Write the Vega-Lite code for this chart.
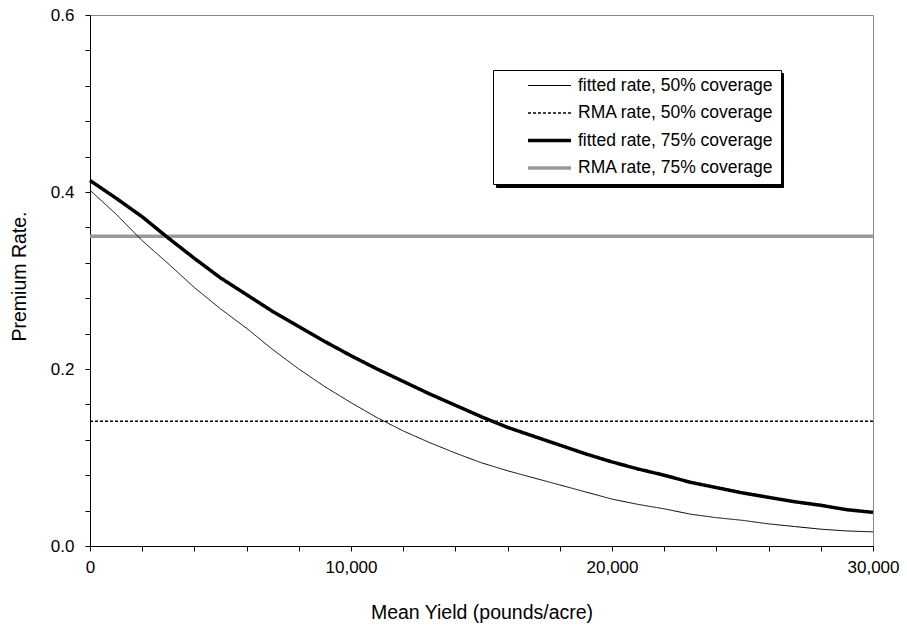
{
  "$schema": "https://vega.github.io/schema/vega-lite/v6.json",
  "width": 783,
  "height": 531,
  "autosize": {"type": "none"},
  "padding": {"left": 90, "top": 15, "right": 34, "bottom": 85},
  "background": "white",
  "data": {
    "values": [
      {"series": "RMA rate, 75% coverage", "yield": 0, "rate": 0.35},
      {"series": "RMA rate, 75% coverage", "yield": 30000, "rate": 0.35},
      {"series": "RMA rate, 50% coverage", "yield": 0, "rate": 0.141},
      {"series": "RMA rate, 50% coverage", "yield": 30000, "rate": 0.141},
      {"series": "fitted rate, 50% coverage", "yield": 0, "rate": 0.402},
      {"series": "fitted rate, 50% coverage", "yield": 1000, "rate": 0.375},
      {"series": "fitted rate, 50% coverage", "yield": 2000, "rate": 0.345},
      {"series": "fitted rate, 50% coverage", "yield": 3000, "rate": 0.319},
      {"series": "fitted rate, 50% coverage", "yield": 4000, "rate": 0.292},
      {"series": "fitted rate, 50% coverage", "yield": 5000, "rate": 0.268},
      {"series": "fitted rate, 50% coverage", "yield": 6000, "rate": 0.246},
      {"series": "fitted rate, 50% coverage", "yield": 7000, "rate": 0.222},
      {"series": "fitted rate, 50% coverage", "yield": 8000, "rate": 0.2},
      {"series": "fitted rate, 50% coverage", "yield": 9000, "rate": 0.18},
      {"series": "fitted rate, 50% coverage", "yield": 10000, "rate": 0.162},
      {"series": "fitted rate, 50% coverage", "yield": 11000, "rate": 0.145},
      {"series": "fitted rate, 50% coverage", "yield": 12000, "rate": 0.13},
      {"series": "fitted rate, 50% coverage", "yield": 13000, "rate": 0.117},
      {"series": "fitted rate, 50% coverage", "yield": 14000, "rate": 0.105},
      {"series": "fitted rate, 50% coverage", "yield": 15000, "rate": 0.094},
      {"series": "fitted rate, 50% coverage", "yield": 16000, "rate": 0.085},
      {"series": "fitted rate, 50% coverage", "yield": 17000, "rate": 0.077},
      {"series": "fitted rate, 50% coverage", "yield": 18000, "rate": 0.069},
      {"series": "fitted rate, 50% coverage", "yield": 19000, "rate": 0.061},
      {"series": "fitted rate, 50% coverage", "yield": 20000, "rate": 0.053},
      {"series": "fitted rate, 50% coverage", "yield": 21000, "rate": 0.047},
      {"series": "fitted rate, 50% coverage", "yield": 22000, "rate": 0.042},
      {"series": "fitted rate, 50% coverage", "yield": 23000, "rate": 0.036},
      {"series": "fitted rate, 50% coverage", "yield": 24000, "rate": 0.032},
      {"series": "fitted rate, 50% coverage", "yield": 25000, "rate": 0.029},
      {"series": "fitted rate, 50% coverage", "yield": 26000, "rate": 0.025},
      {"series": "fitted rate, 50% coverage", "yield": 27000, "rate": 0.022},
      {"series": "fitted rate, 50% coverage", "yield": 28000, "rate": 0.019},
      {"series": "fitted rate, 50% coverage", "yield": 29000, "rate": 0.017},
      {"series": "fitted rate, 50% coverage", "yield": 30000, "rate": 0.016},
      {"series": "fitted rate, 75% coverage", "yield": 0, "rate": 0.413},
      {"series": "fitted rate, 75% coverage", "yield": 1000, "rate": 0.393},
      {"series": "fitted rate, 75% coverage", "yield": 2000, "rate": 0.372},
      {"series": "fitted rate, 75% coverage", "yield": 3000, "rate": 0.348},
      {"series": "fitted rate, 75% coverage", "yield": 4000, "rate": 0.325},
      {"series": "fitted rate, 75% coverage", "yield": 5000, "rate": 0.303},
      {"series": "fitted rate, 75% coverage", "yield": 6000, "rate": 0.284},
      {"series": "fitted rate, 75% coverage", "yield": 7000, "rate": 0.265},
      {"series": "fitted rate, 75% coverage", "yield": 8000, "rate": 0.248},
      {"series": "fitted rate, 75% coverage", "yield": 9000, "rate": 0.231},
      {"series": "fitted rate, 75% coverage", "yield": 10000, "rate": 0.215},
      {"series": "fitted rate, 75% coverage", "yield": 11000, "rate": 0.2},
      {"series": "fitted rate, 75% coverage", "yield": 12000, "rate": 0.186},
      {"series": "fitted rate, 75% coverage", "yield": 13000, "rate": 0.172},
      {"series": "fitted rate, 75% coverage", "yield": 14000, "rate": 0.159},
      {"series": "fitted rate, 75% coverage", "yield": 15000, "rate": 0.146},
      {"series": "fitted rate, 75% coverage", "yield": 16000, "rate": 0.134},
      {"series": "fitted rate, 75% coverage", "yield": 17000, "rate": 0.124},
      {"series": "fitted rate, 75% coverage", "yield": 18000, "rate": 0.114},
      {"series": "fitted rate, 75% coverage", "yield": 19000, "rate": 0.104},
      {"series": "fitted rate, 75% coverage", "yield": 20000, "rate": 0.095},
      {"series": "fitted rate, 75% coverage", "yield": 21000, "rate": 0.087},
      {"series": "fitted rate, 75% coverage", "yield": 22000, "rate": 0.08},
      {"series": "fitted rate, 75% coverage", "yield": 23000, "rate": 0.072},
      {"series": "fitted rate, 75% coverage", "yield": 24000, "rate": 0.066},
      {"series": "fitted rate, 75% coverage", "yield": 25000, "rate": 0.06},
      {"series": "fitted rate, 75% coverage", "yield": 26000, "rate": 0.055},
      {"series": "fitted rate, 75% coverage", "yield": 27000, "rate": 0.05},
      {"series": "fitted rate, 75% coverage", "yield": 28000, "rate": 0.046},
      {"series": "fitted rate, 75% coverage", "yield": 29000, "rate": 0.041},
      {"series": "fitted rate, 75% coverage", "yield": 30000, "rate": 0.038}
    ]
  },
  "mark": {"type": "line", "strokeCap": "butt"},
  "encoding": {
    "x": {
      "field": "yield",
      "type": "quantitative",
      "scale": {"domain": [0, 30000], "nice": false},
      "axis": {
        "title": "Mean Yield (pounds/acre)",
        "values": [0, 2000, 4000, 6000, 8000, 10000, 12000, 14000, 16000, 18000, 20000, 22000, 24000, 26000, 28000, 30000],
        "labelExpr": "datum.value % 10000 == 0 ? format(datum.value, ',') : ''",
        "labelPadding": 8,
        "titlePadding": 28
      }
    },
    "y": {
      "field": "rate",
      "type": "quantitative",
      "scale": {"domain": [0, 0.6], "nice": false},
      "axis": {
        "title": "Premium Rate.",
        "values": [0, 0.04, 0.08, 0.12, 0.16, 0.2, 0.24, 0.28, 0.32, 0.36, 0.4, 0.44, 0.48, 0.52, 0.56, 0.6],
        "labelExpr": "abs(datum.value * 5 - round(datum.value * 5)) < 0.000001 ? format(datum.value, '.1f') : ''",
        "labelPadding": 11,
        "titlePadding": 21,
        "titleY": 261
      }
    },
    "fill": {
      "field": "series",
      "type": "nominal",
      "scale": {
        "domain": ["RMA rate, 75% coverage", "fitted rate, 75% coverage", "RMA rate, 50% coverage", "fitted rate, 50% coverage"],
        "range": ["transparent", "transparent", "transparent", "transparent"]
      },
      "legend": {
        "title": null,
        "legendX": 406,
        "legendY": 58,
        "fillColor": "#000000",
        "strokeColor": "#000000",
        "symbolOpacity": 0,
        "labelExpr": "''",
        "labelOffset": 202
      }
    },
    "stroke": {
      "field": "series",
      "type": "nominal",
      "scale": {
        "domain": ["fitted rate, 50% coverage", "RMA rate, 50% coverage", "fitted rate, 75% coverage", "RMA rate, 75% coverage"],
        "range": ["#000000", "#000000", "#000000", "#999999"]
      },
      "legend": {"title": null}
    },
    "strokeDash": {
      "field": "series",
      "type": "nominal",
      "scale": {
        "domain": ["fitted rate, 50% coverage", "RMA rate, 50% coverage", "fitted rate, 75% coverage", "RMA rate, 75% coverage"],
        "range": [[1, 0], [3, 2], [1, 0], [1, 0]]
      },
      "legend": {"title": null}
    },
    "strokeWidth": {
      "field": "series",
      "type": "nominal",
      "scale": {
        "type": "ordinal",
        "domain": ["fitted rate, 50% coverage", "RMA rate, 50% coverage", "fitted rate, 75% coverage", "RMA rate, 75% coverage"],
        "range": [1, 1.6, 3.5, 3.5]
      },
      "legend": {"title": null}
    }
  },
  "config": {
    "view": {"stroke": "#888888", "strokeWidth": 1},
    "font": "Liberation Sans",
    "axis": {
      "grid": false,
      "domainColor": "#000000",
      "domainWidth": 1,
      "tickColor": "#000000",
      "tickWidth": 1,
      "tickSize": 5,
      "labelFont": "Liberation Sans",
      "labelFontSize": 17,
      "labelColor": "#000000",
      "labelFlush": false,
      "labelOverlap": false,
      "titleFont": "Liberation Sans",
      "titleFontSize": 19.5,
      "titleFontWeight": "normal",
      "titleColor": "#000000"
    },
    "legend": {
      "orient": "none",
      "legendX": 403,
      "legendY": 55,
      "fillColor": "#ffffff",
      "strokeColor": "#000000",
      "padding": 7,
      "clipHeight": 17,
      "symbolType": "stroke",
      "symbolSize": 1850,
      "symbolOffset": 26,
      "labelOffset": 5,
      "rowPadding": 9.5,
      "labelFont": "Liberation Sans",
      "labelFontSize": 17.5,
      "labelColor": "#000000",
      "labelLimit": 400
    }
  }
}
